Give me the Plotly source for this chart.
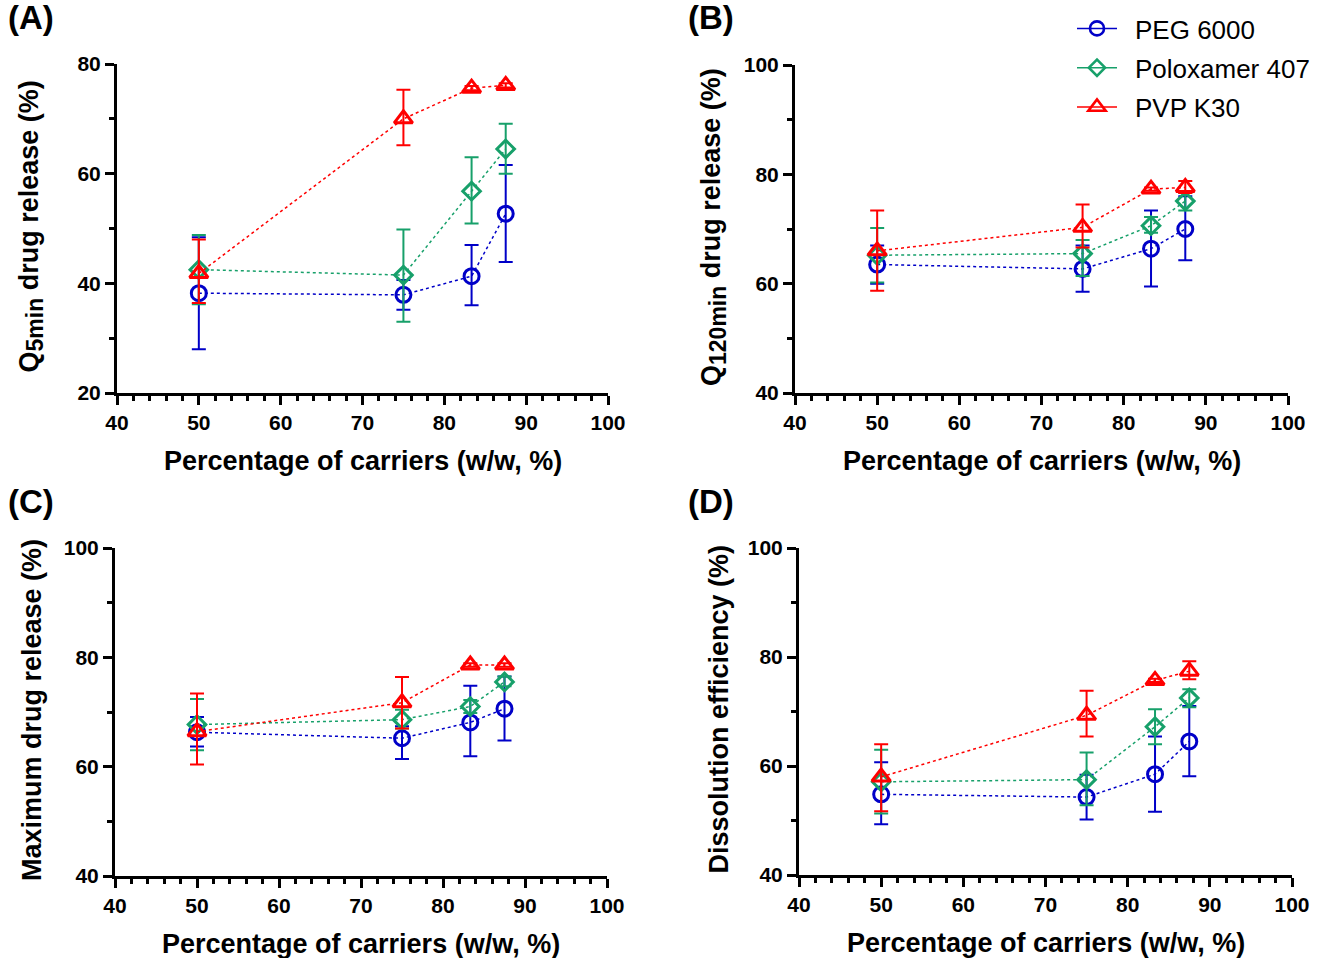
import plotly.graph_objects as go

# Carrier content in the solid dispersions (w/w, %)
carrier_pct = [50, 75, 83.33, 87.5]

series_names = ["PEG 6000", "Poloxamer 407", "PVP K30"]
series_colors = ["#0000C8", "#17A06A", "#FF0000"]
series_symbols = ["circle-open", "diamond-open", "triangle-up-open"]
series_sizes = [15, 13.5, 16]

# (A) Q5min drug release (%)
q5_peg = [38.2, 37.9, 41.3, 52.7]
q5_peg_err_up = [10.2, 2.7, 5.7, 8.9]
q5_peg_err_dn = [10.2, 2.7, 5.3, 8.8]
q5_pol = [42.5, 41.5, 56.8, 64.5]
q5_pol_err_up = [6.3, 8.3, 6.2, 4.6]
q5_pol_err_dn = [6.3, 8.5, 5.9, 4.5]
q5_pvp = [41.8, 70.0, 75.6, 76.1]
q5_pvp_err_up = [6.2, 5.3, 0.4, 0.4]
q5_pvp_err_dn = [5.4, 4.8, 0.4, 0.4]

# (B) Q120min drug release (%)
q120_peg = [63.5, 62.7, 66.4, 70.0]
q120_peg_err_up = [3.5, 4.3, 7.0, 6.0]
q120_peg_err_dn = [3.5, 4.2, 6.9, 5.7]
q120_pol = [65.2, 65.5, 70.6, 75.1]
q120_pol_err_up = [5.0, 2.5, 1.6, 1.5]
q120_pol_err_dn = [5.0, 4.1, 1.3, 1.7]
q120_pvp = [66.0, 70.3, 77.3, 77.6]
q120_pvp_err_up = [7.4, 4.2, 0.3, 1.2]
q120_pvp_err_dn = [7.3, 3.7, 0.3, 1.0]

# (C) Maximum drug release (%)
max_peg = [66.3, 65.2, 68.1, 70.6]
max_peg_err_up = [2.8, 2.2, 6.7, 5.9]
max_peg_err_dn = [2.6, 3.8, 6.2, 5.8]
max_pol = [67.7, 68.6, 71.0, 75.5]
max_pol_err_up = [4.7, 1.8, 1.2, 1.0]
max_pol_err_dn = [4.7, 1.6, 1.2, 0.8]
max_pvp = [66.4, 71.7, 78.6, 78.6]
max_pvp_err_up = [7.0, 4.7, 0.3, 0.3]
max_pvp_err_dn = [6.0, 4.7, 0.3, 0.3]

# (D) Dissolution efficiency (%)
de_peg = [54.8, 54.3, 58.5, 64.5]
de_peg_err_up = [5.9, 4.1, 6.9, 6.5]
de_peg_err_dn = [5.5, 4.1, 6.9, 6.4]
de_pol = [57.1, 57.5, 67.2, 72.5]
de_pol_err_up = [5.9, 5.0, 3.2, 1.6]
de_pol_err_dn = [5.8, 4.7, 3.2, 1.7]
de_pvp = [58.0, 69.3, 75.7, 77.4]
de_pvp_err_up = [6.0, 4.5, 0.3, 1.8]
de_pvp_err_dn = [6.3, 3.9, 0.3, 1.5]

x_title = "Percentage of carriers (w/w, %)"
sub_style = "font-size:23px"

# Panel geometry in pixels: plot box [left, right] x [top, bottom], y-title centre, label corner
panels = [
    {
        "label": "(A)", "label_xy": (6, -3),
        "ytitle": f"Q<sub><span style='{sub_style}'>5min</span></sub> drug release (%)",
        "ytitle_x": 31,
        "yrange": [20, 80],
        "data": [(q5_peg, q5_peg_err_up, q5_peg_err_dn),
                 (q5_pol, q5_pol_err_up, q5_pol_err_dn),
                 (q5_pvp, q5_pvp_err_up, q5_pvp_err_dn)],
        "xdom": [117, 608], "ydom": [64, 393],
    },
    {
        "label": "(B)", "label_xy": (686, -3),
        "ytitle": f"Q<sub><span style='{sub_style}'>120min</span></sub> drug release (%)",
        "ytitle_x": 713,
        "yrange": [40, 100],
        "data": [(q120_peg, q120_peg_err_up, q120_peg_err_dn),
                 (q120_pol, q120_pol_err_up, q120_pol_err_dn),
                 (q120_pvp, q120_pvp_err_up, q120_pvp_err_dn)],
        "xdom": [795, 1288], "ydom": [65, 393],
    },
    {
        "label": "(C)", "label_xy": (6, 481),
        "ytitle": "Maximum drug release (%)", "ytitle_x": 32,
        "yrange": [40, 100],
        "data": [(max_peg, max_peg_err_up, max_peg_err_dn),
                 (max_pol, max_pol_err_up, max_pol_err_dn),
                 (max_pvp, max_pvp_err_up, max_pvp_err_dn)],
        "xdom": [115, 607], "ydom": [548, 876],
    },
    {
        "label": "(D)", "label_xy": (686, 481),
        "ytitle": "Dissolution efficiency (%)", "ytitle_x": 718,
        "yrange": [40, 100],
        "data": [(de_peg, de_peg_err_up, de_peg_err_dn),
                 (de_pol, de_pol_err_up, de_pol_err_dn),
                 (de_pvp, de_pvp_err_up, de_pvp_err_dn)],
        "xdom": [799, 1292], "ydom": [548, 875],
    },
]

W, H = 1317, 958
FONT = "Liberation Sans, Arial, sans-serif"
TITLE_FONT = dict(family=FONT, size=27, color="black", weight="bold")

fig = go.Figure()
layout = {}
annotations = []

for i, p in enumerate(panels):
    n = "" if i == 0 else str(i + 1)
    xa, ya = "x" + n, "y" + n
    for (vals, eu, ed), name, col, sym, sz in zip(p["data"], series_names, series_colors,
                                                  series_symbols, series_sizes):
        fig.add_trace(go.Scatter(
            x=carrier_pct, y=vals, mode="lines+markers", name=name,
            xaxis=xa, yaxis=ya, showlegend=False, cliponaxis=False,
            line=dict(color=col, width=1.5, dash="dot"),
            marker=dict(symbol=sym, size=sz, color=col, line=dict(color=col, width=3)),
            error_y=dict(type="data", symmetric=False, array=eu, arrayminus=ed,
                         color=col, thickness=2, width=7),
        ))
    axis_common = dict(
        showline=True, linecolor="black", linewidth=3, mirror=False,
        ticks="outside", ticklen=9, tickwidth=3, tickcolor="black",
        showgrid=False, zeroline=False, automargin=False,
        tickfont=dict(family=FONT, size=21, color="black", weight="bold"),
    )
    layout["xaxis" + n] = dict(
        axis_common, domain=[p["xdom"][0] / W, p["xdom"][1] / W],
        range=[40, 100], dtick=10, anchor=ya,
        minor=dict(dtick=2, ticks="outside", ticklen=5, tickwidth=2.5, tickcolor="black"),
    )
    layout["yaxis" + n] = dict(
        axis_common, domain=[1 - p["ydom"][1] / H, 1 - p["ydom"][0] / H],
        range=p["yrange"], dtick=20, anchor=xa,
        minor=dict(dtick=10, ticks="outside", ticklen=5, tickwidth=2.5, tickcolor="black"),
    )
    # x-axis title below the plot box
    annotations.append(dict(
        text=x_title, x=(p["xdom"][0] + p["xdom"][1]) / 2 / W,
        y=1 - (p["ydom"][1] + 52) / H, xref="paper", yref="paper",
        xanchor="center", yanchor="top", showarrow=False, borderpad=0, font=TITLE_FONT,
    ))
    # y-axis title, rotated, left of the tick labels
    annotations.append(dict(
        text=p["ytitle"], textangle=-90, x=p["ytitle_x"] / W,
        y=1 - ((p["ydom"][0] + p["ydom"][1]) / 2 - 2) / H, xref="paper", yref="paper",
        xanchor="center", yanchor="middle", showarrow=False, font=TITLE_FONT,
    ))
    # panel letter
    lx, ly = p["label_xy"]
    annotations.append(dict(
        text=p["label"], x=lx / W, y=1 - ly / H, xref="paper", yref="paper",
        xanchor="left", yanchor="top", showarrow=False,
        font=dict(family=FONT, size=33, color="black", weight="bold"),
    ))

# Legend entries drawn with solid line segments
for name, col, sym, sz in zip(series_names, series_colors, series_symbols, series_sizes):
    fig.add_trace(go.Scatter(
        x=[None], y=[None], mode="lines+markers", name="\u2002" + name, legendgroup=name,
        xaxis="x2", yaxis="y2",
        line=dict(color=col, width=1.5),
        marker=dict(symbol=sym, size=sz - 1, color=col, line=dict(color=col, width=2.6)),
    ))

fig.update_layout(
    width=W, height=H, margin=dict(l=0, r=0, t=0, b=0, autoexpand=False),
    paper_bgcolor="white", plot_bgcolor="white",
    font=dict(family=FONT, color="black"),
    annotations=annotations,
    legend=dict(x=1072 / W, y=1 - 5 / H, xanchor="left", yanchor="top",
                font=dict(family=FONT, size=26, color="black"),
                itemwidth=40, tracegroupgap=2.5, bgcolor="rgba(0,0,0,0)"),
    **layout,
)

fig.write_html("out.html")
